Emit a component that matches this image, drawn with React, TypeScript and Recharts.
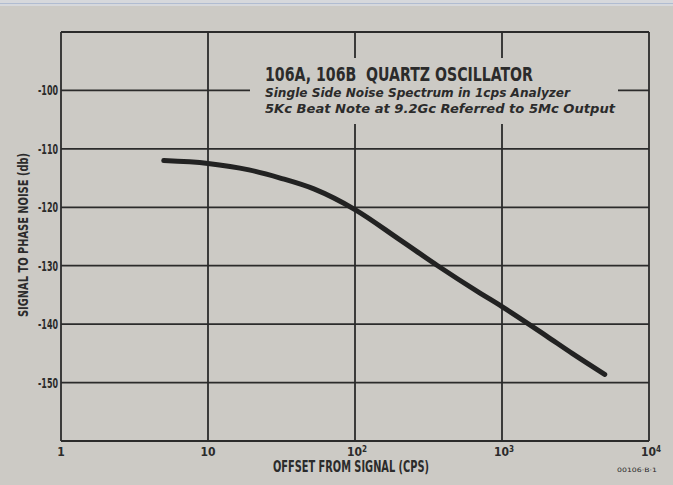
import React from "react";
import { LineChart, Line, XAxis, YAxis, CartesianGrid, Customized } from "recharts";

const offsetFreqs = [5, 10, 19, 31, 53, 100, 200, 365, 700, 1000, 2000, 3000, 5000];
const noiseDb = [-112.0, -112.5, -113.6, -115.0, -116.9, -120.4, -125.5, -130.0, -134.6, -137.0, -142.0, -145.0, -148.6];
const xTicks = [1, 10, 100, 1000, 10000];
const xTickLabels = ["1", "10", "10", "10", "10"];
const xTickSups = ["", "", "2", "3", "4"];
const yTicks = [-160, -150, -140, -130, -120, -110, -100, -90];
const yTickLabels = ["", "-150", "-140", "-130", "-120", "-110", "-100", ""];
const titleText = "106A, 106B  QUARTZ OSCILLATOR";
const subtitle1 = "Single Side Noise Spectrum in 1cps Analyzer";
const subtitle2 = "5Kc Beat Note at 9.2Gc Referred to 5Mc Output";
const xTitle = "OFFSET FROM SIGNAL (CPS)";
const yTitle = "SIGNAL TO PHASE NOISE (db)";
const figCode = "00106·B·1";

const data = offsetFreqs.map((f, i) => ({ f, db: noiseDb[i] }));

const PAPER = "#cccac5";
const INK = "#2b2b2b";
const COND = "'DejaVu Sans Condensed', 'Liberation Sans Narrow', 'DejaVu Sans', sans-serif";

const XTick = (props: any) => {
  const { x, y, payload } = props;
  const i = xTicks.indexOf(payload.value);
  const base = xTickLabels[i] ?? "";
  const sup = xTickSups[i] ?? "";
  return (
    <text
      x={x + (sup ? 2 : 0)}
      y={y + 15}
      textAnchor="middle"
      fill={INK}
      fontFamily={COND}
      fontWeight="bold"
      fontSize={12}
    >
      {base}
      {sup ? (
        <tspan dy={-4} fontSize={8}>
          {sup}
        </tspan>
      ) : null}
    </text>
  );
};

const YTick = (props: any) => {
  const { x, y, payload } = props;
  const i = yTicks.indexOf(payload.value);
  const label = yTickLabels[i] ?? "";
  if (!label) return null;
  return (
    <text
      x={x - 3}
      y={y + 5}
      textAnchor="end"
      fill={INK}
      fontFamily={COND}
      fontWeight="bold"
      fontSize={14}
      textLength={20}
      lengthAdjust="spacingAndGlyphs"
    >
      {label}
    </text>
  );
};

const Overlay = () => (
  <g>
    <rect x={250} y={58} width={368} height={66} fill={PAPER} />
    <text
      x={265}
      y={81}
      fill={INK}
      fontFamily={COND}
      fontWeight="bold"
      fontSize={20}
      textLength={268}
      lengthAdjust="spacingAndGlyphs"
      style={{ whiteSpace: "pre" }}
    >
      {titleText}
    </text>
    <text
      x={265}
      y={97}
      fill={INK}
      fontFamily="'DejaVu Sans', sans-serif"
      fontStyle="italic"
      fontWeight="bold"
      fontSize={11.5}
      textLength={305}
      lengthAdjust="spacingAndGlyphs"
    >
      {subtitle1}
    </text>
    <text
      x={265}
      y={113}
      fill={INK}
      fontFamily="'DejaVu Sans', sans-serif"
      fontStyle="italic"
      fontWeight="bold"
      fontSize={11.5}
      textLength={350}
      lengthAdjust="spacingAndGlyphs"
    >
      {subtitle2}
    </text>
    <text
      x={351}
      y={472}
      textAnchor="middle"
      fill={INK}
      fontFamily={COND}
      fontWeight="bold"
      fontSize={15}
      textLength={156}
      lengthAdjust="spacingAndGlyphs"
    >
      {xTitle}
    </text>
    <text
      transform="translate(28 235) rotate(-90)"
      textAnchor="middle"
      fill={INK}
      fontFamily={COND}
      fontWeight="bold"
      fontSize={14}
      textLength={164}
      lengthAdjust="spacingAndGlyphs"
    >
      {yTitle}
    </text>
    <text
      x={637}
      y={472}
      textAnchor="middle"
      fill={INK}
      fontFamily={COND}
      fontSize={6}
      textLength={40}
      lengthAdjust="spacingAndGlyphs"
    >
      {figCode}
    </text>
  </g>
);

export default function App() {
  return (
    <div
      style={{
        position: "absolute",
        left: 0,
        top: 0,
        width: 673,
        height: 485,
        background: PAPER,
        overflow: "hidden",
      }}
    >
      <div style={{ position: "absolute", left: 0, top: 0, width: 673, height: 6, background: "#d6d8dc" }} />
      <div style={{ position: "absolute", left: 0, top: 3, width: 673, height: 1, background: "#9fb0cc", opacity: 0.7 }} />
      <LineChart
        width={673}
        height={485}
        data={data}
        margin={{ top: 32, right: 24, bottom: 0, left: 0 }}
      >
        <CartesianGrid stroke={INK} strokeWidth={1.8} />
        <XAxis
          dataKey="f"
          type="number"
          scale="log"
          domain={[1, 10000]}
          ticks={xTicks}
          allowDataOverflow
          height={44}
          axisLine={false}
          tickLine={false}
          tickSize={0}
          tickMargin={0}
          tick={<XTick />}
          interval={0}
        />
        <YAxis
          type="number"
          domain={[-160, -90]}
          ticks={yTicks}
          allowDataOverflow
          width={61}
          axisLine={false}
          tickLine={false}
          tickSize={0}
          tickMargin={0}
          tick={<YTick />}
          interval={0}
        />
        <Line
          type="monotone"
          dataKey="db"
          stroke="#222222"
          strokeWidth={5}
          strokeLinecap="round"
          dot={false}
          isAnimationActive={false}
        />
        <Customized component={<Overlay />} />
      </LineChart>
    </div>
  );
}
